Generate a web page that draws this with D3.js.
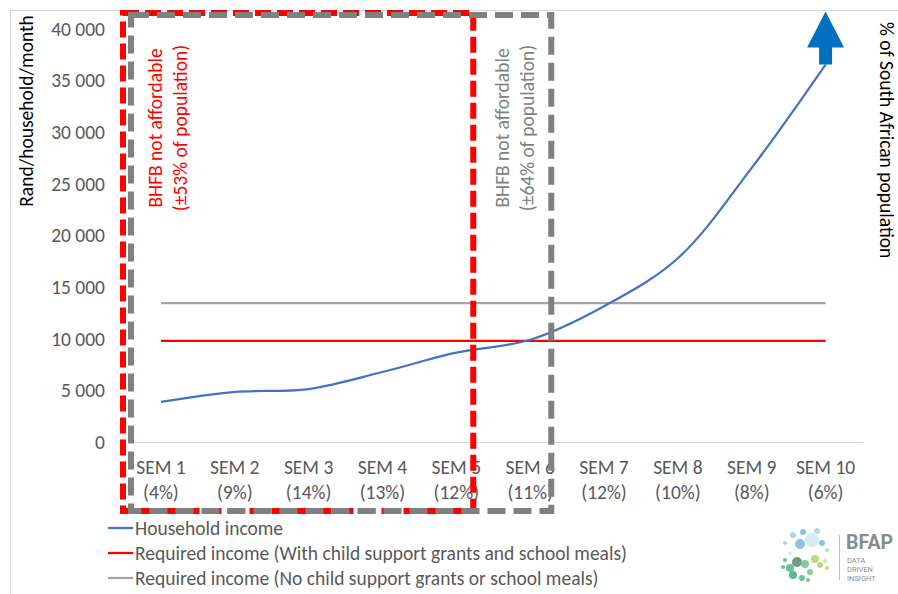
<!DOCTYPE html>
<html>
<head>
<meta charset="utf-8">
<script src="https://cdn.jsdelivr.net/npm/d3@7"></script>
<style>
  body { margin: 0; background: #fff; }
  svg { display: block; font-family: Carlito, Calibri, Lato, "Open Sans", sans-serif; }
</style>
</head>
<body>
<script>
const categories = ["SEM 1", "SEM 2", "SEM 3", "SEM 4", "SEM 5", "SEM 6", "SEM 7", "SEM 8", "SEM 9", "SEM 10"];
const populationShares = ["(4%)", "(9%)", "(14%)", "(13%)", "(12%)", "(11%)", "(12%)", "(10%)", "(8%)", "(6%)"];
const householdIncome = [3880, 4850, 5130, 6780, 8650, 9900, 13150, 17800, 26550, 36550];
const requiredWithGrants = [9800, 9800, 9800, 9800, 9800, 9800, 9800, 9800, 9800, 9800];
const requiredNoGrants = [13450, 13450, 13450, 13450, 13450, 13450, 13450, 13450, 13450, 13450];
const yTicks = [0, 5000, 10000, 15000, 20000, 25000, 30000, 35000, 40000];
const legendLabels = [
  "Household income",
  "Required income (With child support grants and school meals)",
  "Required income (No child support grants or school meals)",
];
const boxNotes = [
  { lines: ["BHFB not affordable", "(±53% of population)"], color: "#ff0000" },
  { lines: ["BHFB not affordable", "(±64% of population)"], color: "#808080" },
];

const width = 898;
const height = 594;
const margin = { top: 29, left: 124, right: 35, bottom: 152 };
const fontSize = 19.5;

const svg = d3.select("body")
    .append("svg")
    .attr("width", width)
    .attr("height", height);

// outer chart frame
svg.append("rect")
    .attr("x", 10.5)
    .attr("y", 10.5)
    .attr("width", width)
    .attr("height", height)
    .attr("fill", "none")
    .attr("stroke", "#d9d9d9");

const x = d3.scaleBand()
    .domain(categories)
    .range([margin.left, width - margin.right - 0.5]);

const y = d3.scaleLinear()
    .domain([0, 40000])
    .range([height - margin.bottom, margin.top]);

const cx = (c) => x(c) + x.bandwidth() / 2;

const locale = d3.formatLocale({ decimal: ".", thousands: " ", grouping: [3], currency: ["", ""] });
const fmt = locale.format(",");

// y tick labels
svg.append("g")
    .selectAll("text")
    .data(yTicks)
    .join("text")
    .attr("x", 105)
    .attr("y", (d) => y(d))
    .attr("dy", "0.35em")
    .attr("text-anchor", "end")
    .attr("fill", "#595959")
    .attr("font-size", fontSize)
    .text((d) => fmt(d));

// baseline
svg.append("line")
    .attr("x1", margin.left + 9)
    .attr("x2", width - margin.right)
    .attr("y1", y(0) + 0.5)
    .attr("y2", y(0) + 0.5)
    .attr("stroke", "#d9d9d9")
    .attr("stroke-width", 1);

// x labels
const xl = svg.append("g")
    .selectAll("text")
    .data(categories)
    .join("text")
    .attr("text-anchor", "middle")
    .attr("fill", "#595959")
    .attr("font-size", fontSize);

xl.append("tspan")
    .attr("x", (d) => cx(d))
    .attr("y", 474)
    .text((d) => d);

xl.append("tspan")
    .attr("x", (d) => cx(d))
    .attr("y", 499)
    .text((d, i) => populationShares[i]);

// axis titles
svg.append("text")
    .attr("transform", `translate(33, 111) rotate(-90)`)
    .attr("text-anchor", "middle")
    .attr("fill", "#000")
    .attr("font-size", fontSize)
    .text("Rand/household/month");

svg.append("text")
    .attr("transform", `translate(880, 22) rotate(90)`)
    .attr("text-anchor", "start")
    .attr("fill", "#000")
    .attr("font-size", fontSize)
    .text("% of South African population");

// series
const line = d3.line()
    .x((d, i) => cx(categories[i]))
    .y((d) => y(d));

svg.append("path")
    .datum(requiredNoGrants)
    .attr("d", line)
    .attr("fill", "none")
    .attr("stroke", "#a5a5a5")
    .attr("stroke-width", 2.25);

svg.append("path")
    .datum(requiredWithGrants)
    .attr("d", line)
    .attr("fill", "none")
    .attr("stroke", "#ff0000")
    .attr("stroke-width", 2.25);

svg.append("path")
    .datum(householdIncome)
    .attr("d", line.curve(d3.curveCatmullRom.alpha(0.5)))
    .attr("fill", "none")
    .attr("stroke", "#4472c4")
    .attr("stroke-width", 2.25);

// arrow on top of last point
const ax = cx(categories[categories.length - 1]);
const ay = y(householdIncome[householdIncome.length - 1]);
svg.append("path")
    .attr("d", [
      [ax - 6.5, ay], [ax - 6.5, ay - 17], [ax - 18.5, ay - 17], [ax, ay - 53],
      [ax + 18.5, ay - 17], [ax + 6.5, ay - 17], [ax + 6.5, ay],
    ].map((p, i) => (i ? "L" : "M") + p.join(",")).join("") + "Z")
    .attr("fill", "#0070c0");

// dashed boxes
const boxes = [
  { x0: margin.left - 1, y0: 13, x1: x("SEM 6") - 20, y1: 511, color: "#ff0000", dash: "16 6" },
  { x0: margin.left + 7, y0: 15, x1: x("SEM 6") + 58, y1: 511, color: "#808080", dash: "18 8" },
];

svg.append("g")
    .selectAll("rect")
    .data(boxes)
    .join("rect")
    .attr("x", (d) => d.x0)
    .attr("y", (d) => d.y0)
    .attr("width", (d) => d.x1 - d.x0)
    .attr("height", (d) => d.y1 - d.y0)
    .attr("fill", "none")
    .attr("stroke", (d) => d.color)
    .attr("stroke-width", 6)
    .attr("stroke-dasharray", (d) => d.dash);

// box notes
const noteX = [155, 502];
boxNotes.forEach((note, k) => {
  const t = svg.append("text")
      .attr("transform", `translate(${noteX[k]}, 128) rotate(-90)`)
      .attr("text-anchor", "middle")
      .attr("fill", note.color)
      .attr("font-size", fontSize);
  note.lines.forEach((l, i) => {
    t.append("tspan")
        .attr("x", 0)
        .attr("y", i * 25)
        .attr("dy", "0.35em")
        .text(l);
  });
});

// legend
const legendColors = ["#4472c4", "#ff0000", "#a5a5a5"];
const lg = svg.append("g")
    .selectAll("g")
    .data(legendLabels)
    .join("g")
    .attr("transform", (d, i) => `translate(108, ${528 + i * 25})`);

lg.append("line")
    .attr("x1", 0)
    .attr("x2", 25)
    .attr("stroke", (d, i) => legendColors[i])
    .attr("stroke-width", 2.25);

lg.append("text")
    .attr("x", 27)
    .attr("dy", "0.35em")
    .attr("fill", "#595959")
    .attr("font-size", fontSize)
    .text((d) => d);

// BFAP logo
const dots = [
  [812, 540, 7, "#cde9f4"], [800, 544, 5, "#7fbde0"], [793, 535, 3, "#9fd0ea"],
  [803, 532, 3, "#7fbde0"], [817, 531, 3, "#a8d6ee"], [822, 543, 3, "#7fbde0"],
  [785, 543, 2, "#9fd0ea"], [827, 550, 2, "#a8d6ee"], [790, 553, 2, "#cde9f4"],
  [797, 562, 5, "#5f8f7a"], [790, 568, 4, "#5db88a"], [805, 564, 4, "#7cc58f"],
  [815, 559, 4, "#b5d86a"], [820, 565, 3, "#b5d86a"], [785, 560, 2, "#5db88a"],
  [783, 567, 2, "#5db88a"], [793, 575, 4, "#4fae82"], [802, 578, 3, "#5db88a"],
  [810, 572, 3, "#7cc58f"], [825, 561, 2, "#c5e08a"], [827, 568, 2, "#b5d86a"],
  [808, 580, 2, "#5db88a"],
];
svg.append("g")
    .selectAll("circle")
    .data(dots)
    .join("circle")
    .attr("cx", (d) => d[0])
    .attr("cy", (d) => d[1])
    .attr("r", (d) => d[2])
    .attr("fill", (d) => d[3])
    .attr("opacity", 0.9);

svg.append("line")
    .attr("x1", 839.5).attr("x2", 839.5)
    .attr("y1", 535).attr("y2", 580)
    .attr("stroke", "#bfbfbf");

svg.append("text")
    .attr("x", 846).attr("y", 549)
    .attr("font-size", 19.5).attr("font-weight", "bold")
    .attr("font-family", "Roboto, sans-serif")
    .attr("fill", "#8c8c8c")
    .text("BFAP");

["DATA", "DRIVEN", "INSIGHT"].forEach((w, i) => {
  svg.append("text")
      .attr("x", 847).attr("y", 563 + i * 9)
      .attr("font-size", 7.5)
      .attr("font-family", "Roboto, sans-serif")
      .attr("fill", "#8c8c8c")
      .text(w);
});
</script>
</body>
</html>
